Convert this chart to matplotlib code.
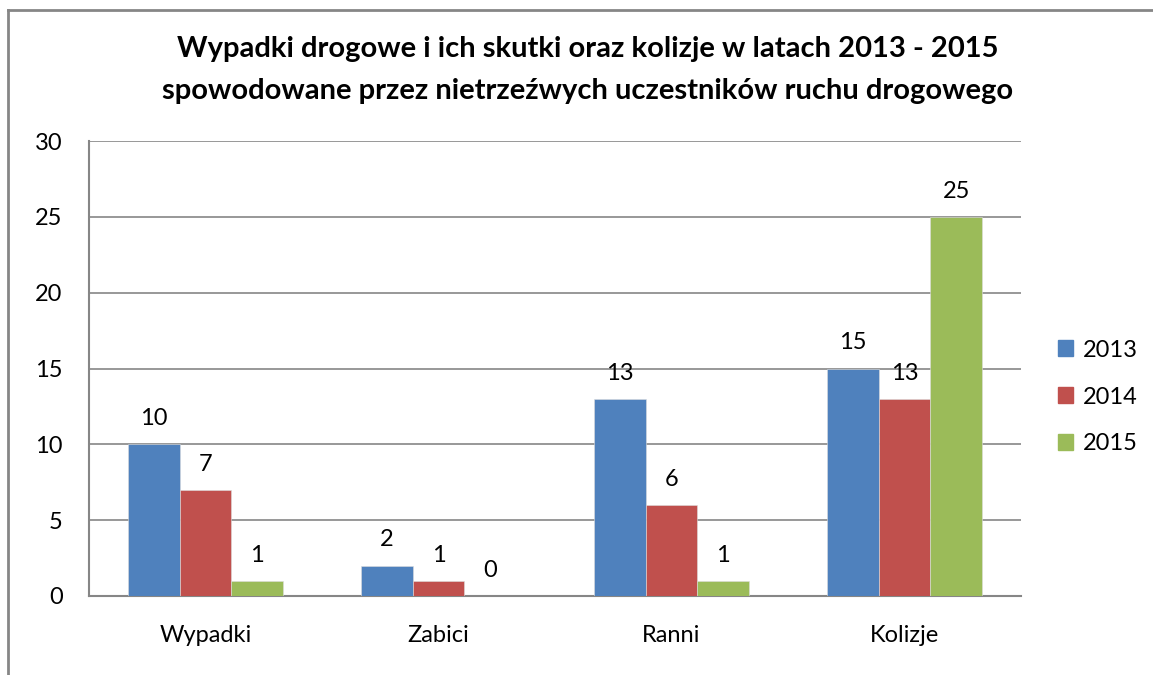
import matplotlib.pyplot as plt
import numpy as np
from matplotlib.patches import Rectangle

categories = ['Wypadki', 'Zabici', 'Ranni', 'Kolizje']
years = ['2013', '2014', '2015']
v2013 = [10, 2, 13, 15]
v2014 = [7, 1, 6, 13]
v2015 = [1, 0, 1, 25]
series = [v2013, v2014, v2015]
colors = ['#4f81bd', '#c0504d', '#9bbb59']

plt.rcParams['font.family'] = ['Lato', 'DejaVu Sans']

W, H = 1153, 675
fig = plt.figure(figsize=(W / 100, H / 100), dpi=100)

# outer frame (only left and top visible in the original)
fig.add_artist(plt.Line2D([8 / W, 8 / W], [0, 1 - 10 / H], color='#868686', lw=2,
                          transform=fig.transFigure))
fig.add_artist(plt.Line2D([8 / W, 1], [1 - 10 / H, 1 - 10 / H], color='#868686', lw=2,
                          transform=fig.transFigure))

ax = fig.add_axes([89 / W, 1 - 596 / H, (1021 - 89) / W, (596 - 141) / H])

n = len(series)
width = 1 / (n + 1.5)
x = np.arange(len(categories))
for i, (vals, col, yr) in enumerate(zip(series, colors, years)):
    pos = x + (i - (n - 1) / 2) * width
    ax.bar(pos, vals, width, color=col, label=yr, zorder=3,
           edgecolor='#dddddd', linewidth=0.4)
    for p, v in zip(pos, vals):
        ax.text(p, v + 1.0, str(v), ha='center', va='bottom', fontsize=17)

ax.set_xlim(-0.5, len(categories) - 0.5)
ax.set_ylim(0, 30)
ax.set_yticks(range(0, 31, 5))
ax.set_xticks(x)
ax.set_xticklabels(categories)
ax.grid(axis='y', color='#868686', lw=1.2, zorder=0)
ax.tick_params(axis='both', length=0, labelsize=17)
ax.tick_params(axis='x', pad=21)
ax.tick_params(axis='y', pad=19)
for s in ['top', 'right']:
    ax.spines[s].set_visible(False)
for s in ['left', 'bottom']:
    ax.spines[s].set_color('#868686')
    ax.spines[s].set_linewidth(1.5)

tx = 588 / W
fig.text(tx, 1 - 49 / H, 'Wypadki drogowe i ich skutki oraz kolizje w latach 2013 - 2015',
         ha='center', va='center', fontsize=21, fontweight='bold')
fig.text(tx, 1 - 91 / H, 'spowodowane przez nietrzeźwych uczestników ruchu drogowego',
         ha='center', va='center', fontsize=21, fontweight='bold')

handles = [Rectangle((0, 0), 1, 1, color=c) for c in colors]
fig.legend(handles, years, loc='center left', bbox_to_anchor=(1058 / W, 1 - 397 / H),
           frameon=False, fontsize=17, handlelength=0.65, handleheight=0.65,
           handletextpad=0.4, labelspacing=1.1, borderaxespad=0, borderpad=0)

fig.savefig('out.png', dpi=100, facecolor='white')
